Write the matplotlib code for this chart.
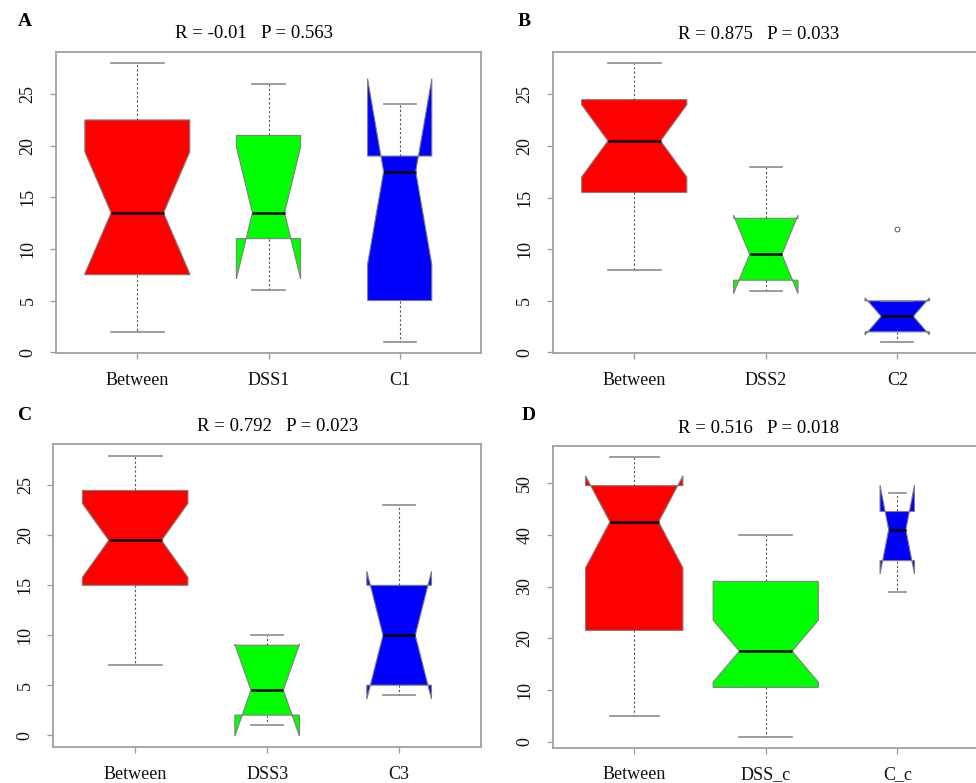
import numpy as np
import matplotlib
matplotlib.use("Agg")
import matplotlib.pyplot as plt

plt.rcParams['font.family'] = ['Liberation Serif', 'DejaVu Serif']

# ANOSIM rank dissimilarity boxplots, one row per panel
panel_letters = ["A", "B", "C", "D"]
panel_titles = ["R = -0.01   P = 0.563", "R = 0.875   P = 0.033",
                "R = 0.792   P = 0.023", "R = 0.516   P = 0.018"]
group_labels = [["Between", "DSS1", "C1"],
                ["Between", "DSS2", "C2"],
                ["Between", "DSS3", "C3"],
                ["Between", "DSS_c", "C_c"]]
n_pairs = [[16, 6, 6], [16, 6, 6], [16, 6, 6], [24, 28, 3]]

med = [[13.5, 13.5, 17.5], [20.5, 9.5, 3.5], [19.5, 4.5, 10.0], [42.5, 17.5, 41.0]]
q1 = [[7.5, 11.0, 5.0], [15.5, 7.0, 2.0], [15.0, 2.0, 5.0], [21.5, 10.5, 35.0]]
q3 = [[22.5, 21.0, 19.0], [24.5, 13.0, 5.0], [24.5, 9.0, 15.0], [49.5, 31.0, 44.5]]
whislo = [[2, 6, 1], [8, 6, 1], [7, 1, 4], [5, 1, 29]]
whishi = [[28, 26, 24], [28, 18, 5], [28, 10, 23], [55, 40, 48]]
cilo = [[7.6, 7.1, 8.5], [17.0, 5.7, 1.7], [15.8, -0.1, 3.6], [33.6, 11.5, 32.4]]
cihi = [[19.4, 19.9, 26.5], [24.0, 13.3, 5.3], [23.2, 9.1, 16.4], [51.4, 23.5, 49.6]]
outliers = [[[], [], []], [[], [], [12]], [[], [], []], [[], [], []]]
ytick_step = [5, 5, 5, 10]

box_colors = ["#ff0000", "#00ff00", "#0000ff"]

W, H = 976, 783
fig = plt.figure(figsize=(W / 100, H / 100), dpi=100)

# axes boxes in pixels: left, top, right, bottom
ax_px = [(56, 52, 481, 353), (552.7, 52.3, 978.8, 353.3),
         (53.3, 444.3, 481, 747.3), (552.7, 446, 978.8, 747.7)]
title_x = [0.466, 0.484, 0.525, 0.484]
title_y = [1.060, 1.060, 1.058, 1.058]
letter_px = [(18, 21), (518, 21), (18, 416), (522, 416)]

for i in range(4):
    l, t, r, b = ax_px[i]
    ax = fig.add_axes([l / W, 1 - b / H, (r - l) / W, (b - t) / H])

    n = np.array(n_pairs[i], dtype=float)
    widths = 0.8 * np.sqrt(n / n.max())
    stats = []
    for j in range(3):
        stats.append(dict(med=med[i][j], q1=q1[i][j], q3=q3[i][j],
                          whislo=whislo[i][j], whishi=whishi[i][j],
                          cilo=cilo[i][j], cihi=cihi[i][j],
                          fliers=outliers[i][j], label=group_labels[i][j]))

    bp = ax.bxp(stats, positions=[1, 2, 3], widths=widths, shownotches=True,
                patch_artist=True, showfliers=True,
                boxprops=dict(edgecolor="#808080", linewidth=0.8),
                medianprops=dict(color="black", linewidth=1.8),
                whiskerprops=dict(color="#555555", linewidth=0.8, linestyle=(0, (2, 2))),
                capprops=dict(color="#8c8c8c", linewidth=1.2),
                flierprops=dict(marker="o", markersize=3.5, markerfacecolor="none",
                                markeredgecolor="#555555", markeredgewidth=0.7))
    for patch, c in zip(bp["boxes"], box_colors):
        patch.set_facecolor(c)

    lo = min(min(whislo[i]), min(cilo[i]))
    hi = max(max(whishi[i]), max(cihi[i]))
    pad = 0.04 * (hi - lo)
    ax.set_ylim(lo - pad, hi + pad)
    ax.set_xlim(0.38, 3.62)
    ax.set_yticks(np.arange(0, hi + 0.1, ytick_step[i]))
    ax.set_xticks([1, 2, 3])
    ax.set_xticklabels(group_labels[i], fontsize=13, color="#111111")
    for lab in ax.get_yticklabels():
        lab.set_rotation(90)
        lab.set_va("center")
        lab.set_fontsize(13)
        lab.set_color("#111111")
    ax.tick_params(axis="x", length=4, width=0.9, color="#999999", pad=9.5)
    ax.tick_params(axis="y", length=4, width=0.9, color="#999999", pad=10)
    for sp in ax.spines.values():
        sp.set_color("#a0a0a0")
        sp.set_linewidth(1.3)

    ax.text(title_x[i], title_y[i], panel_titles[i], transform=ax.transAxes,
            ha="center", va="center", fontsize=13.5)
    fig.text(letter_px[i][0] / W, 1 - letter_px[i][1] / H, panel_letters[i],
             fontsize=14, fontweight="bold", ha="left", va="center")

fig.savefig("out.png", dpi=100)
